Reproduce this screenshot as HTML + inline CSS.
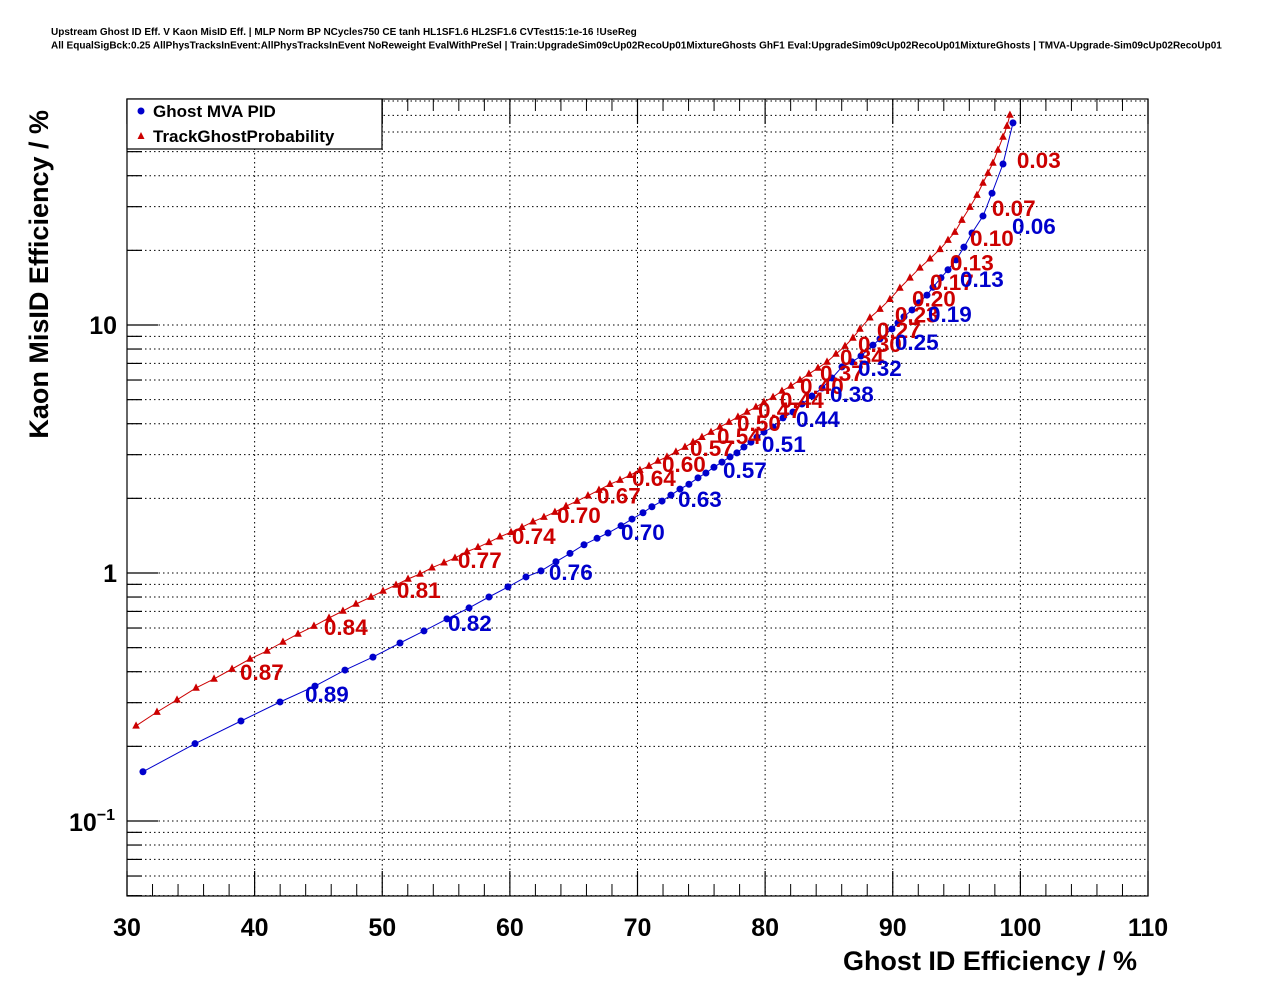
<!DOCTYPE html>
<html><head><meta charset="utf-8"><style>
body{margin:0;background:#fff;}
svg{display:block;font-family:"Liberation Sans",Arial,sans-serif;}
</style></head><body>
<svg id="chart" width="1276" height="996" viewBox="0 0 1276 996" xmlns="http://www.w3.org/2000/svg">
<rect width="1276" height="996" fill="#fff"/>
<text x="51" y="35" font-size="10" font-weight="bold">Upstream Ghost ID Eff. V Kaon MisID Eff. | MLP Norm BP NCycles750 CE tanh HL1SF1.6 HL2SF1.6 CVTest15:1e-16 !UseReg</text>
<text x="51" y="48.5" font-size="10" font-weight="bold">All EqualSigBck:0.25 AllPhysTracksInEvent:AllPhysTracksInEvent NoReweight EvalWithPreSel | Train:UpgradeSim09cUp02RecoUp01MixtureGhosts GhF1 Eval:UpgradeSim09cUp02RecoUp01MixtureGhosts | TMVA-Upgrade-Sim09cUp02RecoUp01</text>
<g id="grid"></g>
<g id="axes"></g>
<g id="series"></g>
<g id="labels"></g>
<rect x="127" y="99" width="1021" height="797" fill="none" stroke="#000" stroke-width="1.2"/>
<g>
<rect x="127" y="99" width="255" height="50" fill="#fff" stroke="#000" stroke-width="1.2"/>
<circle cx="141" cy="111" r="3.5" fill="#0000cc"/>
<text x="153" y="117" font-size="17" font-weight="bold">Ghost MVA PID</text>
<polygon points="141,132 137.5,139 144.5,139" fill="#cc0000"/>
<text x="153" y="142" font-size="17" font-weight="bold">TrackGhostProbability</text>
</g>
<text x="1137" y="970" text-anchor="end" font-size="27" font-weight="bold">Ghost ID Efficiency / %</text>
<text transform="translate(48,110) rotate(-90)" text-anchor="end" font-size="27" font-weight="bold">Kaon MisID Efficiency / %</text>
</svg>
<script>
const xTicks=[30,40,50,60,70,80,90,100,110];
const yMajor=[0.1,1,10];
const blueX=[31.25,35.33,38.93,41.99,44.73,47.08,49.27,51.39,53.27,55.07,56.80,58.36,59.85,61.26,62.44,63.61,64.71,65.81,66.83,67.69,68.71,69.57,70.43,71.13,71.92,72.62,73.33,74.03,74.74,75.36,75.99,76.62,77.25,77.79,78.34,78.89,79.36,79.91,80.62,81.40,82.18,82.89,83.67,84.46,85.24,86.02,86.81,87.51,88.45,89.00,89.94,90.41,90.88,91.51,92.06,92.68,93.15,93.78,94.33,94.96,95.58,96.21,97.07,97.78,98.64,99.42];
const blueY=[0.158,0.205,0.253,0.302,0.350,0.406,0.458,0.522,0.584,0.653,0.723,0.800,0.879,0.964,1.02,1.11,1.20,1.30,1.38,1.45,1.55,1.65,1.75,1.85,1.95,2.06,2.18,2.28,2.42,2.53,2.67,2.80,2.94,3.05,3.22,3.37,3.53,3.70,3.88,4.22,4.46,4.80,5.17,5.57,6.11,6.78,7.10,7.50,8.30,8.79,9.64,10.2,10.8,11.5,12.3,13.2,14.2,15.5,16.7,18.3,20.6,23.5,27.5,34.0,44.6,65.3];
const redX=[30.71,32.35,33.92,35.41,36.82,38.23,39.64,40.97,42.22,43.40,44.65,45.83,46.92,47.94,49.12,50.06,51.08,52.02,52.96,53.90,54.84,55.70,56.64,57.50,58.36,59.22,60.09,60.95,61.81,62.67,63.53,64.40,65.26,66.12,66.98,67.84,68.63,69.41,70.19,70.90,71.60,72.31,73.01,73.72,74.35,75.05,75.76,76.46,77.17,77.87,78.58,79.28,79.91,80.62,81.32,82.02,82.73,83.43,84.14,84.85,85.55,86.26,86.88,87.43,88.21,89.00,89.78,90.56,91.35,92.13,92.92,93.70,94.33,94.87,95.42,96.05,96.60,97.07,97.46,97.85,98.24,98.64,98.95,99.18];
const redY=[0.242,0.275,0.308,0.344,0.374,0.410,0.450,0.485,0.527,0.568,0.611,0.659,0.703,0.750,0.800,0.846,0.895,0.946,0.991,1.05,1.10,1.15,1.22,1.27,1.33,1.40,1.46,1.53,1.61,1.68,1.76,1.86,1.95,2.05,2.16,2.28,2.37,2.48,2.60,2.70,2.83,2.94,3.08,3.22,3.37,3.53,3.70,3.88,4.06,4.26,4.46,4.67,4.89,5.12,5.42,5.68,6.00,6.35,6.71,7.10,7.64,8.22,8.87,9.64,10.7,11.6,12.7,14.1,15.5,17.0,18.5,20.2,22.0,23.7,26.5,29.9,33.4,37.4,41.0,45.0,50.8,57.3,63.4,70.3];
const redLabelText=["0.03","0.07","0.10","0.13","0.17","0.20","0.23","0.27","0.30","0.34","0.37","0.40","0.44","0.47","0.50","0.54","0.57","0.60","0.64","0.67","0.70","0.74","0.77","0.81","0.84","0.87"];
const redLabelX=[99.73,97.77,96.05,94.48,92.92,91.51,90.17,88.76,87.28,85.87,84.30,82.73,81.16,79.44,77.80,76.23,74.11,71.92,69.57,66.83,63.69,60.16,55.93,51.15,45.43,38.85];
const redLabelY=[46.2,29.7,22.4,17.9,14.9,12.8,11.0,9.55,8.38,7.43,6.40,5.68,4.99,4.54,4.03,3.57,3.19,2.75,2.42,2.05,1.71,1.41,1.13,0.853,0.605,0.399];
const blueLabelText=["0.06","0.13","0.19","0.25","0.32","0.38","0.44","0.51","0.57","0.63","0.70","0.76","0.82","0.89"];
const blueLabelX=[99.34,95.27,92.76,90.17,87.28,85.08,82.42,79.75,76.70,73.17,68.71,63.06,55.15,43.95];
const blueLabelY=[25.1,15.3,11.1,8.53,6.71,5.27,4.18,3.31,2.60,1.99,1.46,1.01,0.628,0.325];

const X0=127,X1=1148,Y0=99,Y1=896;
const xMin=30,xMax=110;
const yDecPx=248, y10px=325;
function sx(v){return X0+(v-xMin)/(xMax-xMin)*(X1-X0);}
function sy(v){return y10px-(Math.log10(v)-1)*yDecPx;}
const NS="http://www.w3.org/2000/svg";
function mk(tag,parent,attrs){const e=document.createElementNS(NS,tag);for(const k in attrs)e.setAttribute(k,attrs[k]);parent.appendChild(e);return e;}
const grid=document.getElementById('grid'),axes=document.getElementById('axes'),ser=document.getElementById('series'),lab=document.getElementById('labels');

for(const t of xTicks){
  const x=sx(t);
  if(t>xMin&&t<xMax){
    const g=mk('line',grid,{x1:x,x2:x,y1:Y0,y2:Y1,stroke:'#000','stroke-width':1,'stroke-dasharray':'1.5,3'});
    
    
  }
  const tk=mk('line',axes,{x1:x,x2:x,y1:Y1,y2:Y1-25,stroke:'#000','stroke-width':1.2});
  
  
  const tk2=mk('line',axes,{x1:x,x2:x,y1:Y0,y2:Y0+25,stroke:'#000','stroke-width':1.2});
  
  
  const tl=mk('text',axes,{x:x,y:936,'text-anchor':'middle','font-size':25,'font-weight':'bold'});
  tl.textContent=t;
  
  
}
for(let t=xMin;t<xMax;t+=2){
  if(t%10===0)continue;
  const x=sx(t);
  const a=mk('line',axes,{x1:x,x2:x,y1:Y1,y2:Y1-12,stroke:'#000','stroke-width':1});
  
  
  const b=mk('line',axes,{x1:x,x2:x,y1:Y0,y2:Y0+12,stroke:'#000','stroke-width':1});
  
  
}
for(const dec of [0.01,0.1,1,10]){
  for(let m=1;m<=9;m++){
    const v=dec*m, y=sy(v);
    if(y<Y0||y>Y1)continue;
    const gl=mk('line',grid,{x1:X0,x2:X1,y1:y,y2:y,stroke:'#000','stroke-width':1,'stroke-dasharray':'1.5,3'});
    
    
    const len=m===1?31:15;
    const tk=mk('line',axes,{x1:X0,x2:X0+len,y1:y,y2:y,stroke:'#000','stroke-width':1.2});
    
    
  }
}
const yl1=mk('text',axes,{x:117,y:sy(10)+9,'text-anchor':'end','font-size':25,'font-weight':'bold'});yl1.textContent='10';


const yl2=mk('text',axes,{x:117,y:sy(1)+9,'text-anchor':'end','font-size':25,'font-weight':'bold'});yl2.textContent='1';


const yl3=mk('text',axes,{x:69,y:sy(0.1)+10,'font-size':25,'font-weight':'bold'});


yl3.innerHTML='10<tspan font-size="16" dy="-11">−1</tspan>';

function drawSeries(xs,ys,color,kind,name){
  const g=mk('g',ser,{});
  
  
  const pts=xs.map((v,i)=>sx(v).toFixed(1)+','+sy(ys[i]).toFixed(1)).join(' ');
  const pl=mk('polyline',g,{points:pts,fill:'none',stroke:color,'stroke-width':1});
  
  
  xs.forEach((v,i)=>{
    const x=sx(v),y=sy(ys[i]);let m;
    if(kind==='circle'){m=mk('circle',g,{cx:x,cy:y,r:3.5,fill:color});}
    else{m=mk('polygon',g,{points:`${x},${y-4.5} ${x-3.8},${y+2.8} ${x+3.8},${y+2.8}`,fill:color});}
    
    
  });
}
drawSeries(redX,redY,'#cc0000','tri','track-ghost-probability-series');
drawSeries(blueX,blueY,'#0000cc','circle','ghost-mva-pid-series');

function drawLabels(txt,xs,ys,color,name){
  txt.forEach((t,i)=>{
    const e=mk('text',lab,{x:sx(xs[i]),y:sy(ys[i])+8,'font-size':22.5,'font-weight':'bold',fill:color});
    e.textContent=t;
    
    
  });
}
drawLabels(redLabelText,redLabelX,redLabelY,'#cc0000','red-cut-label');
drawLabels(blueLabelText,blueLabelX,blueLabelY,'#0000cc','blue-cut-label');
</script>
</body></html>
